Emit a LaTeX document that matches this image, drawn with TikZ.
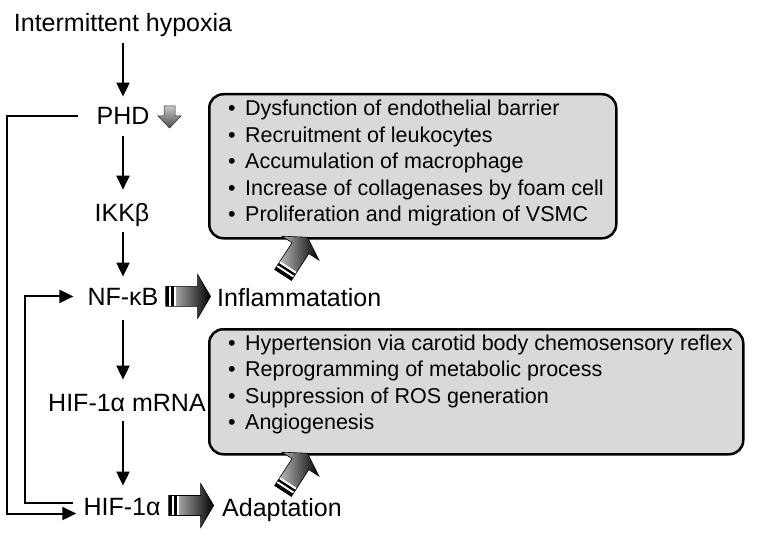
\documentclass[tikz,border=0pt]{standalone}
\usepackage{fontspec}
\setmainfont{Liberation Sans}
\usetikzlibrary{arrows.meta,calc}
\definecolor{boxgray}{RGB}{217,217,217}
\tikzset{
  lbl/.style={font=\fontsize{25}{30}\selectfont, inner sep=0pt, anchor=base},
  item/.style={font=\fontsize{21.5}{26}\selectfont, inner sep=0pt, anchor=base west},
  flow/.style={line width=2pt, -{Triangle[length=14pt,width=13pt]}},
  fbline/.style={line width=2pt, -{Triangle[length=14pt,width=13pt]}},
  infobox/.style={draw=black, line width=2.5pt, fill=boxgray, rounded corners=14pt, inner sep=0pt},
  barrow/.pic={
    \shade[left color=gray!35, right color=black, draw=black, line width=0.6pt]
      (0,-10) -- (32,-10) -- (32,-22) -- (45,0) -- (32,22) -- (32,10) -- (0,10) -- cycle;
    \fill[black] (0,-10) rectangle (3.5,10);
    \fill[white] (3.5,-9.5) rectangle (5.5,9.5);
    \fill[black] (5.5,-10) rectangle (8,10);
    \fill[white] (8,-9.5) rectangle (10,9.5);
  }
}
\begin{document}
\begin{tikzpicture}[x=1pt,y=-1pt]
\useasboundingbox (0,0) rectangle (762,537);
\fill[white] (0,0) rectangle (762,537);
\coordinate (col) at (123,0);
\coordinate (oL) at (7,0);
\coordinate (iL) at (25,0);

% left column
\node[lbl] (hyp) at (123,32) {Intermittent hypoxia};
\node[lbl] (phd) at (123,125) {PHD};
\node[lbl] (ikk) at (122,222) {IKKβ};
\node[lbl] (nfkb) at (123,305) {NF-κB};
\node[lbl] (mrna) at (127,411) {HIF-1α mRNA};
\node[lbl] (hif) at (122,515) {HIF-1α};
\node[lbl, anchor=base west] (infl) at (217,306) {Inflammatation};
\node[lbl, anchor=base west] (adapt) at (222,516) {Adaptation};

% vertical arrows
\draw[flow, shorten <=6pt, shorten >=11pt] (hyp.south -| col) -- (phd.north -| col);
\draw[flow, shorten <=11pt, shorten >=14pt] (phd.south -| col) -- (ikk.north -| col);
\draw[flow, shorten <=5pt, shorten >=11pt] (ikk.south -| col) -- (nfkb.north -| col);
\draw[flow, shorten <=15pt, shorten >=14pt] (nfkb.south -| col) -- (mrna.north -| col);
\draw[flow, shorten <=10pt, shorten >=12pt] (mrna.south -| col) -- (hif.north -| col);

% feedback lines
\draw[fbline] ($(phd.west)+(-18,0)$) -- (phd.west -| oL) -- ($(oL |- hif.west)+(0,7)$) -- ($(hif.west)+(-7,7)$);
\draw[fbline] ($(hif.west)+(-10,-4)$) -- ($(iL |- hif.west)+(0,-4)$) -- (iL |- nfkb.west) -- ($(nfkb.west)+(-14,0)$);

% small down arrow at PHD
\shade[top color=gray!45, bottom color=gray!60!black, draw=gray!30!black, line width=0.5pt]
  (164,106) -- (175,106) -- (175,116) -- (181,116) -- (169.5,128) -- (158,116) -- (164,116) -- cycle;

% boxes
\node[infobox, anchor=north west, minimum width=407pt, minimum height=144pt] (box1) at (208,93) {};
\node[infobox, anchor=north west, minimum width=534pt, minimum height=125pt] (box2) at (208,328) {};

\node[item] (t11) at (228,116) {\makebox[17pt][l]{•}Dysfunction of endothelial barrier};
\node[item] (t12) at (228,142.5) {\makebox[17pt][l]{•}Recruitment of leukocytes};
\node[item] (t13) at (228,169) {\makebox[17pt][l]{•}Accumulation of macrophage};
\node[item] (t14) at (228,195.5) {\makebox[17pt][l]{•}Increase of collagenases by foam cell};
\node[item] (t15) at (228,222) {\makebox[17pt][l]{•}Proliferation and migration of VSMC};

\node[item] (t21) at (228,350) {\makebox[17pt][l]{•}Hypertension via carotid body chemosensory reflex};
\node[item] (t22) at (228,376.5) {\makebox[17pt][l]{•}Reprogramming of metabolic process};
\node[item] (t23) at (228,403) {\makebox[17pt][l]{•}Suppression of ROS generation};
\node[item] (t24) at (228,429.5) {\makebox[17pt][l]{•}Angiogenesis};

% block arrows
\pic at ($(nfkb.east)+(7,0)$) {barrow};
\pic at ($(hif.east)+(8,-1)$) {barrow};
\pic[rotate=57] at (283,275) {barrow};
\pic[rotate=57] at (283,491) {barrow};
\end{tikzpicture}
\end{document}
